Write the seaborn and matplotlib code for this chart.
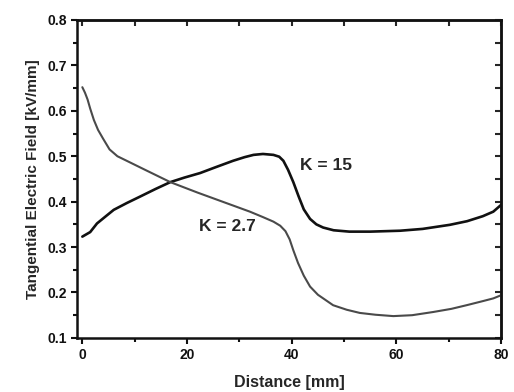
import numpy as np
import pandas as pd
import matplotlib
matplotlib.use("Agg")
import matplotlib.pyplot as plt
from matplotlib.ticker import MultipleLocator
import seaborn as sns

sns.set_style("ticks")
plt.rcParams["font.family"] = ["Liberation Sans", "DejaVu Sans"]
plt.rcParams["font.weight"] = "bold"

# K = 15 curve
x_k15 = [0, 1.5, 2.8, 4.5, 6, 8.5, 11, 14, 16.8, 19.5, 22.5, 25.5, 28.8, 31, 32.7, 34.5,
         36.5, 37.6, 38.4, 39.3, 40.3, 41.3, 42.3, 43.5, 44.7, 46, 48, 51, 55, 60.7,
         65, 70.2, 73.5, 76.5, 78.5, 80]
y_k15 = [0.323, 0.333, 0.352, 0.368, 0.382, 0.397, 0.411, 0.428, 0.443, 0.453, 0.463, 0.476,
         0.490, 0.498, 0.503, 0.505, 0.503, 0.499, 0.490, 0.470, 0.443, 0.412, 0.383, 0.362,
         0.350, 0.343, 0.337, 0.334, 0.334, 0.336, 0.340, 0.349, 0.357, 0.368, 0.378, 0.393]

# K = 2.7 curve
x_k27 = [0, 0.5, 1.0, 1.5, 2.2, 3.0, 4.0, 5.2, 6.7, 9, 12, 16.8, 22, 27, 32, 34.5, 36.5,
         37.8, 38.8, 39.6, 40.3, 41.2, 42.3, 43.5, 45, 47.9, 50.5, 53, 56, 59.4, 63, 67,
         70.5, 73.4, 76.5, 78.5, 80]
y_k27 = [0.652, 0.640, 0.625, 0.605, 0.580, 0.558, 0.538, 0.515, 0.500, 0.487, 0.470,
         0.443, 0.420, 0.399, 0.378, 0.366, 0.356, 0.347, 0.335, 0.317, 0.293, 0.265,
         0.237, 0.213, 0.195, 0.172, 0.162, 0.155, 0.151, 0.148, 0.150, 0.157, 0.164,
         0.172, 0.181, 0.187, 0.194]

df = pd.concat([
    pd.DataFrame({"Distance": x_k15, "Field": y_k15, "K": "K = 15"}),
    pd.DataFrame({"Distance": x_k27, "Field": y_k27, "K": "K = 2.7"}),
])

fig = plt.figure(figsize=(5.14, 3.92), dpi=100)
ax = fig.add_axes([0.150, 0.138, 0.825, 0.811])

sns.lineplot(
    data=df,
    x="Distance",
    y="Field",
    hue="K",
    palette={"K = 15": "#111111", "K = 2.7": "#4a4a4a"},
    size="K",
    sizes={"K = 15": 1.9, "K = 2.7": 1.5},
    sort=False,
    legend=False,
    ax=ax,
)

ax.set_xlim(-1, 80)
ax.set_ylim(0.1, 0.8)
ax.xaxis.set_major_locator(MultipleLocator(20))
ax.xaxis.set_minor_locator(MultipleLocator(10))
ax.yaxis.set_major_locator(MultipleLocator(0.1))
ax.yaxis.set_minor_locator(MultipleLocator(0.05))
ax.yaxis.set_major_formatter(plt.FormatStrFormatter("%.1f"))

for s in ax.spines.values():
    s.set_visible(True)
    s.set_linewidth(1.8)
    s.set_color("#111111")

ax.tick_params(which="both", direction="out", width=1.5, labelsize=10, colors="#111111",
               top=False, right=False)
ax.tick_params(which="major", length=4)
ax.tick_params(which="minor", length=3)

# inward ticks on the top and right edges
sec_x = ax.secondary_xaxis("top")
sec_x.xaxis.set_major_locator(MultipleLocator(10))
sec_x.tick_params(direction="in", length=4, width=1.5, labeltop=False)
sec_y = ax.secondary_yaxis("right")
sec_y.yaxis.set_major_locator(MultipleLocator(0.05))
sec_y.tick_params(direction="in", length=4, width=1.5, labelright=False)
sec_x.spines["top"].set_linewidth(1.8)
sec_y.spines["right"].set_linewidth(1.8)

for lbl in ax.get_xticklabels() + ax.get_yticklabels():
    lbl.set_fontweight("bold")

ax.set_xlabel("Distance [mm]", fontsize=11.5, fontweight="bold", labelpad=9)
ax.set_ylabel("Tangential Electric Field [kV/mm]", fontsize=11, fontweight="bold", labelpad=5)

ax.text(41.6, 0.48, "K = 15", fontsize=12.5, fontweight="bold", va="center", ha="left")
ax.text(22.3, 0.345, "K = 2.7", fontsize=12.5, fontweight="bold", va="center", ha="left")

plt.savefig("out.png", dpi=100)
